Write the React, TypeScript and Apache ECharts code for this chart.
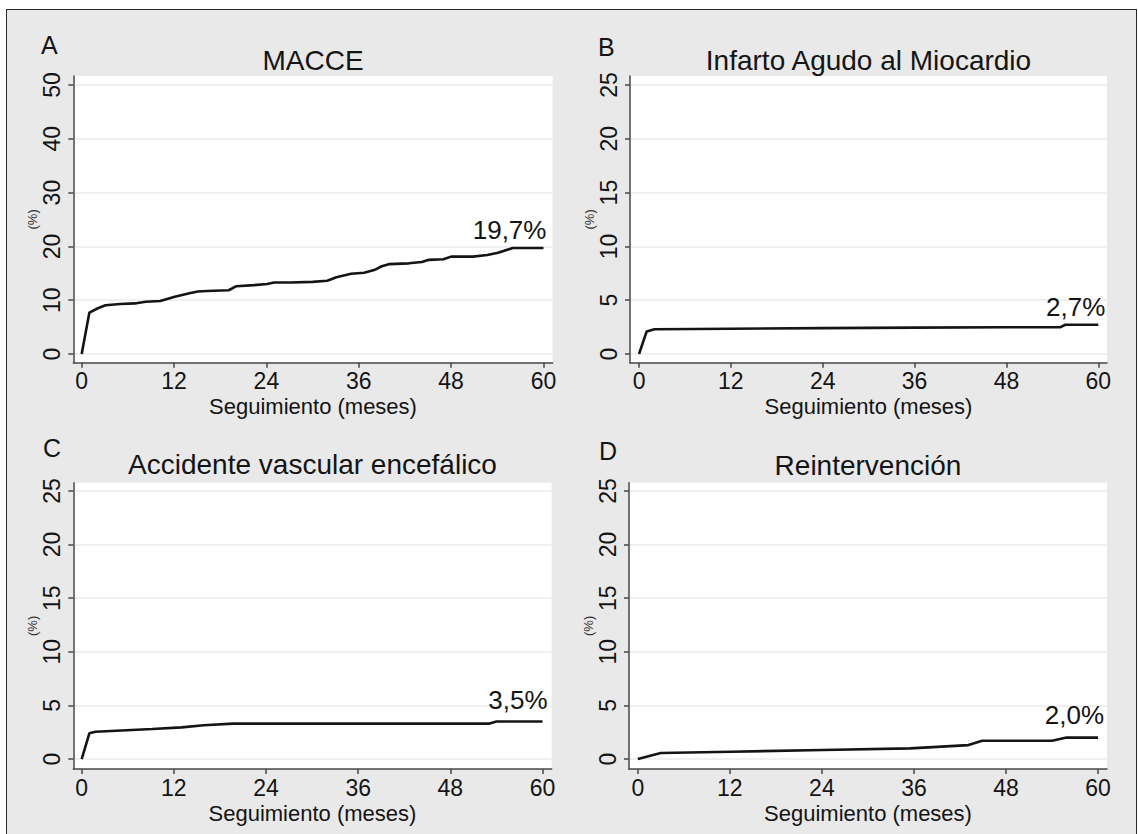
import React, { useEffect, useRef } from 'react';
import * as echarts from 'echarts';

// ---------- data ----------
const panelLetters = ['A', 'B', 'C', 'D'];
const panelTitles = ['MACCE', 'Infarto Agudo al Miocardio', 'Accidente vascular encefálico', 'Reintervención'];
const xTicks = [0, 12, 24, 36, 48, 60];
const yTicksMacce = [0, 10, 20, 30, 40, 50];
const yTicksOther = [0, 5, 10, 15, 20, 25];
const xAxisTitle = 'Seguimiento (meses)';
const yAxisTitle = '(%)';
const endLabels = ['19,7%', '2,7%', '3,5%', '2,0%'];

const macceMonths = [0, 1, 2.1, 3.1, 5, 6.9, 8.3, 10.2, 12.1, 14, 15.1, 16.3, 19.1, 20.1, 22.4, 24.1, 25, 27.2, 30, 31.9, 33.1, 35, 36.7, 38, 39, 39.9, 42.5, 44.2, 45.1, 47, 48, 50.8, 52.7, 54.1, 56, 60];
const macceValues = [0, 7.7, 8.5, 9.05, 9.3, 9.4, 9.7, 9.85, 10.65, 11.3, 11.6, 11.7, 11.85, 12.6, 12.8, 13.0, 13.3, 13.3, 13.4, 13.6, 14.25, 14.9, 15.1, 15.6, 16.3, 16.7, 16.85, 17.1, 17.5, 17.6, 18.1, 18.1, 18.4, 18.8, 19.7, 19.7];

const iamMonths = [0, 1, 2, 12, 24, 36, 48, 55, 55.7, 60];
const iamValues = [0, 2.1, 2.3, 2.35, 2.4, 2.45, 2.48, 2.48, 2.72, 2.72];

const avcMonths = [0, 1, 1.8, 9.2, 13, 15.9, 19.7, 53, 54, 60];
const avcValues = [0, 2.4, 2.55, 2.8, 2.95, 3.15, 3.3, 3.3, 3.5, 3.5];

const reMonths = [0, 3, 12.2, 24.1, 35.5, 40.2, 43.1, 44.9, 54, 55.9, 60];
const reValues = [0, 0.56, 0.68, 0.84, 0.99, 1.18, 1.3, 1.7, 1.7, 2.0, 2.0];

const seriesMonths = [macceMonths, iamMonths, avcMonths, reMonths];
const seriesValues = [macceValues, iamValues, avcValues, reValues];
const yTicksPerPanel = [yTicksMacce, yTicksOther, yTicksOther, yTicksOther];

// ---------- layout / style ----------
const FONT = '"Liberation Sans", Arial, Helvetica, sans-serif';
const INK = '#141414';
const AXIS = '#474747';

const grids = [
  { left: 73.3, top: 76, width: 479.4, height: 286.7 },
  { left: 630, top: 76, width: 477, height: 286.7 },
  { left: 73.3, top: 482.7, width: 478.3, height: 286.3 },
  { left: 629, top: 482.7, width: 478, height: 286.3 },
];
const xRanges = [[-1.09, 61.2], [-1.18, 61.14], [-1.09, 61.18], [-1.15, 61.17]];
const yRanges = [[-1.62, 51.67], [-0.81, 25.84], [-0.93, 25.77], [-0.93, 25.77]];
const titlePos = [[313, 46], [868.5, 46], [312.5, 450], [868, 451]];
const letterPos = [[41, 45], [598, 47], [43, 448], [599, 451]];
const endLabelDistance = [4, 4, 8, 9];
const endLabelOffsetX = [3, 7, 5, 6];

export default function App() {
  const ref = useRef<HTMLDivElement>(null);

  useEffect(() => {
    if (!ref.current) return;
    const chart = echarts.init(ref.current, undefined, { renderer: 'svg' });

    const option: any = {
      animation: false,
      textStyle: { fontFamily: FONT },
      title: panelTitles.map((t, i) => ({
        text: t,
        left: titlePos[i][0],
        top: titlePos[i][1],
        textAlign: 'center',
        padding: 0,
        textStyle: { fontSize: 28, fontWeight: 'normal', color: INK, fontFamily: FONT },
      })),
      grid: grids.map((g) => ({
        ...g,
        show: true,
        backgroundColor: '#ffffff',
        borderWidth: 0,
        containLabel: false,
      })),
      xAxis: grids.map((_, i) => ({
        type: 'value',
        gridIndex: i,
        min: xRanges[i][0],
        max: xRanges[i][1],
        axisLine: { show: true, onZero: false, lineStyle: { color: AXIS, width: 1.5 } },
        axisTick: { show: true, length: 5, customValues: xTicks, lineStyle: { color: AXIS, width: 1.5 } },
        axisLabel: { customValues: xTicks, margin: 7, fontSize: 23, color: INK, fontFamily: FONT },
        splitLine: { show: false },
        name: xAxisTitle,
        nameLocation: 'middle',
        nameGap: 33,
        nameTextStyle: { fontSize: 22, color: INK, fontFamily: FONT },
      })),
      yAxis: grids.map((_, i) => ({
        type: 'value',
        gridIndex: i,
        min: yRanges[i][0],
        max: yRanges[i][1],
        axisLine: { show: true, onZero: false, lineStyle: { color: AXIS, width: 1.5 } },
        axisTick: { show: true, length: 5, customValues: yTicksPerPanel[i], lineStyle: { color: AXIS, width: 1.5 } },
        axisLabel: { customValues: yTicksPerPanel[i], rotate: 90, margin: 10, fontSize: 23, color: INK, fontFamily: FONT },
        splitLine: { show: true, lineStyle: { color: '#ebebeb', width: 1.5 } },
        name: yAxisTitle,
        nameLocation: 'middle',
        nameGap: 33,
        nameTextStyle: { fontSize: 13, color: '#333', fontFamily: FONT },
      })),
      series: grids.map((_, i) => {
        const ms = seriesMonths[i];
        const vs = seriesValues[i];
        return {
          type: 'line',
          xAxisIndex: i,
          yAxisIndex: i,
          data: ms.map((m, j) => [m, vs[j]]),
          showSymbol: false,
          symbol: 'none',
          silent: true,
          lineStyle: { color: INK, width: 2.6 },
          markPoint: {
            silent: true,
            symbol: 'rect',
            symbolSize: 1,
            itemStyle: { color: 'rgba(0,0,0,0)' },
            data: [
              {
                coord: [ms[ms.length - 1], vs[vs.length - 1]],
                label: {
                  show: true,
                  formatter: endLabels[i],
                  position: 'top',
                  distance: endLabelDistance[i],
                  align: 'right',
                  offset: [endLabelOffsetX[i], 0],
                  fontSize: 26,
                  color: INK,
                  fontFamily: FONT,
                },
              },
            ],
          },
        };
      }),
      graphic: panelLetters.map((l, i) => ({
        type: 'text',
        x: letterPos[i][0],
        y: letterPos[i][1],
        style: { text: l, fontSize: 25, fontFamily: FONT, fill: INK, align: 'left', verticalAlign: 'middle' },
      })),
    };

    chart.setOption(option);
    return () => chart.dispose();
  }, []);

  return (
    <div style={{ position: 'absolute', left: 0, top: 0, width: 1138, height: 834, background: '#ffffff', overflow: 'hidden' }}>
      <div
        style={{
          position: 'absolute',
          left: 6,
          top: 9,
          width: 1131,
          height: 830,
          background: '#e9e9e9',
          border: '1.5px solid #2a2a2a',
          boxSizing: 'border-box',
        }}
      />
      <div ref={ref} style={{ position: 'absolute', left: 0, top: 0, width: 1138, height: 834 }} />
    </div>
  );
}
